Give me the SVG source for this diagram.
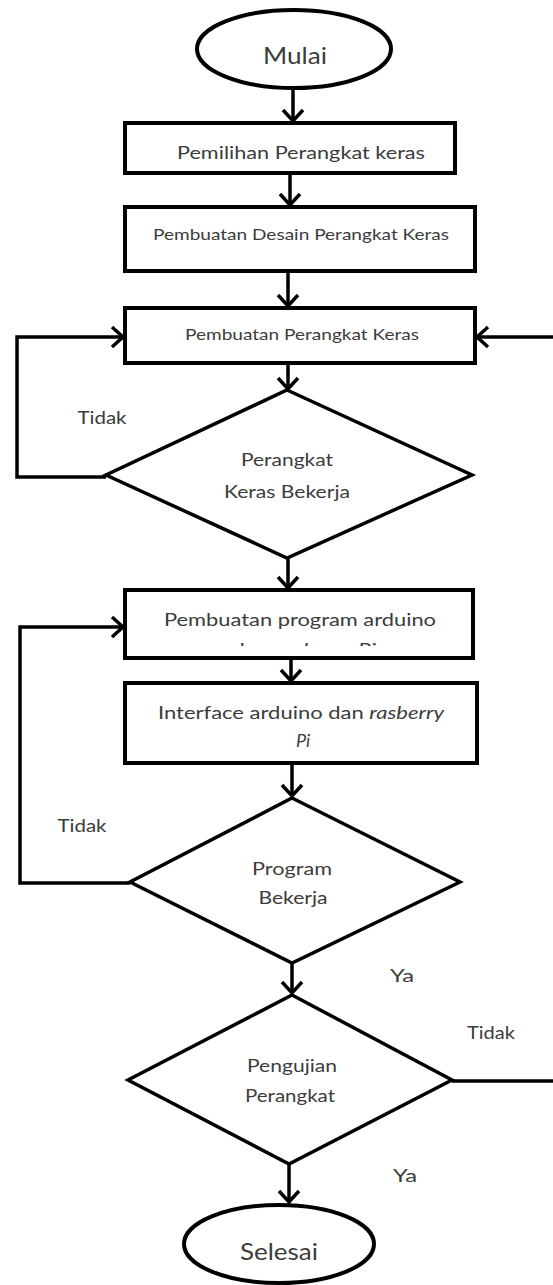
<svg xmlns="http://www.w3.org/2000/svg" width="553" height="1285" viewBox="0 0 553 1285">
<style>
.shape{fill:#fff;stroke:#000;stroke-width:4}
.dia{fill:#fff;stroke:#000;stroke-width:3.5;stroke-linejoin:miter}
.conn{fill:none;stroke:#000;stroke-width:3.5}
.t{font-family:Lato,"Open Sans","Liberation Sans",sans-serif;fill:#3c3c3c;text-anchor:middle;dominant-baseline:central}
.it{font-style:italic}
</style>
<defs>
<marker id="ah" markerUnits="userSpaceOnUse" markerWidth="30" markerHeight="30" viewBox="-15 -15 30 30" refX="0" refY="0" orient="auto">
<path d="M-11,-10 L0,0 L-11,10" fill="none" stroke="#000" stroke-width="3.5"/>
</marker>
<clipPath id="clip4"><rect x="125" y="638" width="350" height="8"/></clipPath>
</defs>

<g id="connectors">
<line class="conn" x1="293" y1="88" x2="293" y2="121" marker-end="url(#ah)"/>
<line class="conn" x1="290" y1="173" x2="290" y2="205" marker-end="url(#ah)"/>
<line class="conn" x1="288" y1="272" x2="288" y2="306" marker-end="url(#ah)"/>
<line class="conn" x1="288" y1="363" x2="288" y2="389" marker-end="url(#ah)"/>
<line class="conn" x1="553" y1="337" x2="477" y2="337" marker-end="url(#ah)"/>
<polyline class="conn" points="106,477 17,477 17,337 123,337" marker-end="url(#ah)"/>
<line class="conn" x1="288" y1="558" x2="288" y2="588" marker-end="url(#ah)"/>
<line class="conn" x1="291" y1="658" x2="291" y2="681" marker-end="url(#ah)"/>
<line class="conn" x1="292" y1="763" x2="292" y2="796" marker-end="url(#ah)"/>
<polyline class="conn" points="130,883 20,883 20,627 123,627" marker-end="url(#ah)"/>
<line class="conn" x1="292" y1="963" x2="292" y2="993" marker-end="url(#ah)"/>
<line class="conn" x1="452" y1="1081" x2="553" y2="1081"/>
<line class="conn" x1="289" y1="1164" x2="289" y2="1202" marker-end="url(#ah)"/>
<text class="t" x="102" y="417" font-size="17" textLength="49" lengthAdjust="spacingAndGlyphs">Tidak</text>
<text class="t" x="82" y="825" font-size="17" textLength="49" lengthAdjust="spacingAndGlyphs">Tidak</text>
<text class="t" x="402" y="975" font-size="17" textLength="24" lengthAdjust="spacingAndGlyphs">Ya</text>
<text class="t" x="491" y="1032" font-size="17" textLength="48" lengthAdjust="spacingAndGlyphs">Tidak</text>
<text class="t" x="405" y="1175" font-size="17" textLength="24" lengthAdjust="spacingAndGlyphs">Ya</text>
</g>

<g id="mulai">
<ellipse class="shape" cx="294" cy="49" rx="97" ry="39"/>
<text class="t" x="295" y="54" font-size="24" textLength="64" lengthAdjust="spacingAndGlyphs">Mulai</text>
</g>

<g id="pemilihan">
<rect class="shape" x="125" y="123" width="330" height="50"/>
<text class="t" x="301" y="152" font-size="17" textLength="248" lengthAdjust="spacingAndGlyphs">Pemilihan Perangkat keras</text>
</g>

<g id="desain">
<rect class="shape" x="125" y="207" width="350" height="64"/>
<text class="t" x="301" y="233" font-size="16" textLength="296" lengthAdjust="spacingAndGlyphs">Pembuatan Desain Perangkat Keras</text>
</g>

<g id="pembuatan-perangkat">
<rect class="shape" x="125" y="308" width="350" height="55"/>
<text class="t" x="302" y="333" font-size="16" textLength="234" lengthAdjust="spacingAndGlyphs">Pembuatan Perangkat Keras</text>
</g>

<g id="cek-perangkat">
<polygon class="dia" points="287,390 472,475 287,558 106,475"/>
<text class="t" x="287" y="459" font-size="18" textLength="92" lengthAdjust="spacingAndGlyphs">Perangkat</text>
<text class="t" x="287" y="491" font-size="18" textLength="126" lengthAdjust="spacingAndGlyphs">Keras Bekerja</text>
</g>

<g id="program-arduino">
<rect class="shape" x="125" y="590" width="348" height="68"/>
<text class="t" x="300" y="619" font-size="18" textLength="272" lengthAdjust="spacingAndGlyphs">Pembuatan program arduino</text>
<text class="t" x="304" y="649" font-size="18" textLength="144" lengthAdjust="spacingAndGlyphs" clip-path="url(#clip4)">dan <tspan class="it">rasberry Pi</tspan></text>
</g>

<g id="interface">
<rect class="shape" x="125" y="683" width="352" height="80"/>
<text class="t" x="301" y="712" font-size="18" textLength="286" lengthAdjust="spacingAndGlyphs">Interface arduino dan <tspan class="it">rasberry</tspan></text>
<text class="t it" x="303" y="740" font-size="18">Pi</text>
</g>

<g id="cek-program">
<polygon class="dia" points="292,798 460,882 292,963 130,882"/>
<text class="t" x="292" y="868" font-size="18" textLength="80" lengthAdjust="spacingAndGlyphs">Program</text>
<text class="t" x="293" y="897" font-size="18" textLength="69" lengthAdjust="spacingAndGlyphs">Bekerja</text>
</g>

<g id="pengujian">
<polygon class="dia" points="292,995 452,1080 289,1164 128,1080"/>
<text class="t" x="292" y="1065" font-size="18" textLength="90" lengthAdjust="spacingAndGlyphs">Pengujian</text>
<text class="t" x="290" y="1095" font-size="18" textLength="90" lengthAdjust="spacingAndGlyphs">Perangkat</text>
</g>

<g id="selesai">
<ellipse class="shape" cx="279" cy="1244" rx="95" ry="39"/>
<text class="t" x="279" y="1250" font-size="24" textLength="78" lengthAdjust="spacingAndGlyphs">Selesai</text>
</g>
</svg>
